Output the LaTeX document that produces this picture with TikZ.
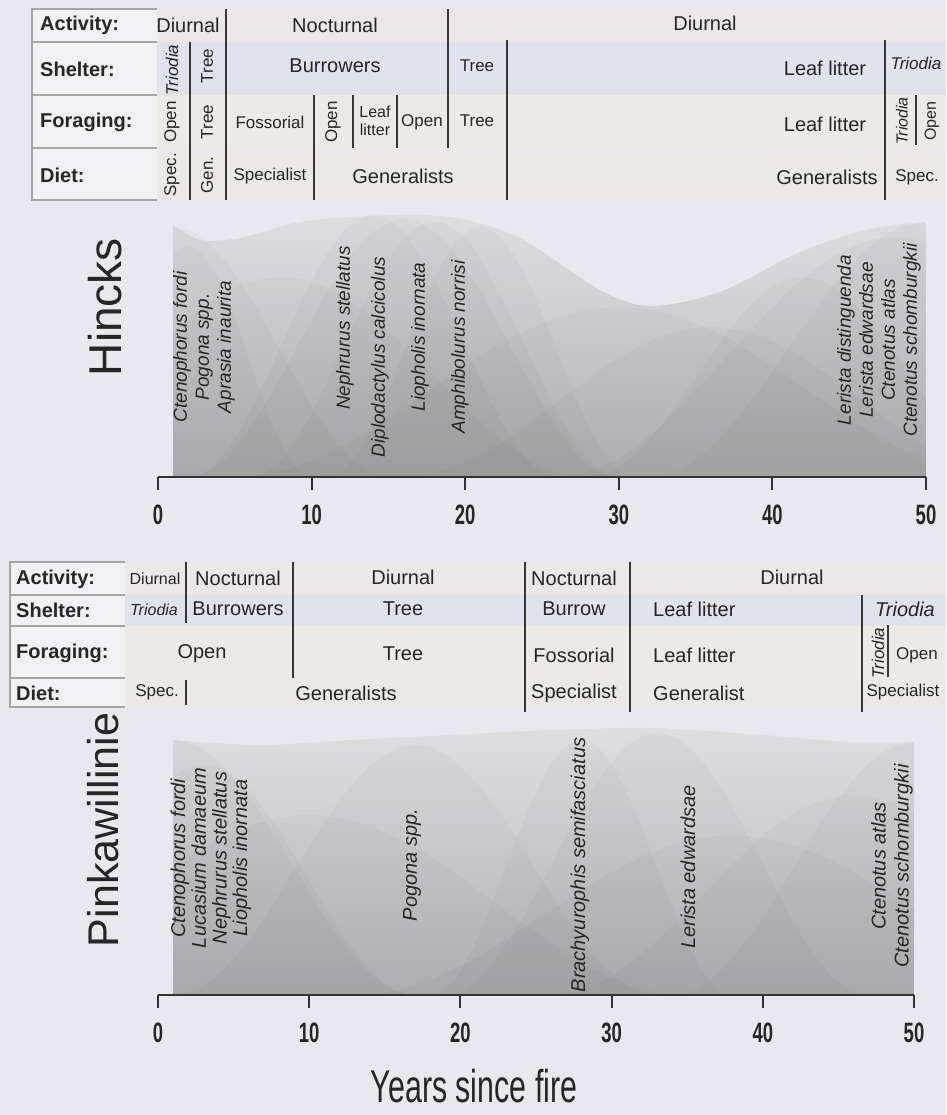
\documentclass[tikz,border=0pt]{standalone}
\usepackage{fontspec}
\setmainfont{Liberation Sans}
\usepackage{graphicx}
\usetikzlibrary{positioning}

\definecolor{bgcol}{RGB}{232,232,238}
\definecolor{actcol}{RGB}{236,231,233}
\definecolor{shecol}{RGB}{225,226,237}
\definecolor{forcol}{RGB}{236,234,226}
\definecolor{diecol}{RGB}{234,233,230}
\definecolor{boxcol}{RGB}{241,241,244}
\definecolor{linecol}{RGB}{55,55,55}
\definecolor{plottop}{RGB}{222,222,225}
\definecolor{plotbot}{RGB}{184,184,186}

\begin{document}
\begin{tikzpicture}[x=1pt, y=-1pt,
	every node/.style={inner sep=0pt, text=black!85},
	rowlab/.style={anchor=west, font=\fontsize{20}{22}\selectfont\bfseries},
	biglab/.style={font=\fontsize{20}{22}\selectfont},
	smalllab/.style={font=\fontsize{17}{20}\selectfont},
	tinylab/.style={font=\fontsize{16}{18}\selectfont, align=center},
	uplab/.style={rotate=90},
	splab/.style={rotate=90, align=center, font=\fontsize{19}{22}\selectfont\itshape},
	sitelab/.style={rotate=90, font=\fontsize{46}{50}\selectfont},
	ticklab/.style={font=\fontsize{28}{30}\selectfont\bfseries},
	sep/.style={draw=linecol, line width=2.2pt},
	boxline/.style={draw=black!35, line width=1.2pt},
	axisline/.style={draw=black!80, line width=2pt},
	hump/.style={fill=black, fill opacity=0.022},
	plotbase/.style={top color=plottop, bottom color=plotbot}]

	% Canvas
	\fill[bgcol] (0,0) rectangle (946,1115);
	\useasboundingbox (0,0) rectangle (946,1115);

	%%%%%%%%%%%%%%%% Hincks table
	% Bands
	\fill[actcol] (157,9) rectangle (946,42);
	\fill[shecol] (157,42) rectangle (946,95);
	\fill[forcol] (157,95) rectangle (946,148);
	\fill[diecol] (157,148) rectangle (946,200);
	% Label box
	\fill[boxcol] (32,9) rectangle (157,200);
	\draw[boxline] (157,9) -- (32,9) -- (32,200) -- (157,200);
	\draw[boxline] (32,42) -- (157,42);
	\draw[boxline] (32,95) -- (157,95);
	\draw[boxline] (32,148) -- (157,148);
	\node[rowlab] (hact) at (40,25) {Activity:};
	\node[rowlab] (hshe) at (40,69) {Shelter:};
	\node[rowlab] (hfor) at (40,122) {Foraging:};
	\node[rowlab] (hdie) at (40,175) {Diet:};
	% Activity
	\node[biglab] (hact1) at (188,25) {Diurnal};
	\node[biglab] (hact2) at (335,25) {Nocturnal};
	\node[biglab] (hact3) at (705,23) {Diurnal};
	% Shelter
	\node[smalllab, uplab] (hshe1) at (172,70) {\itshape Triodia};
	\node[smalllab, uplab] (hshe2) at (207,66) {Tree};
	\node[biglab] (hshe3) at (335,66) {Burrowers};
	\node[smalllab] (hshe4) at (477,66) {Tree};
	\node[biglab] (hshe5) at (825,68) {Leaf litter};
	\node[smalllab] (hshe6) at (916,63) {\itshape Triodia};
	% Foraging
	\node[smalllab, uplab] (hfor1) at (172,122) {Open};
	\node[smalllab, uplab] (hfor2) at (207,122) {Tree};
	\node[smalllab] (hfor3) at (270,122) {Fossorial};
	\node[smalllab, uplab] (hfor4) at (333,122) {Open};
	\node[tinylab] (hfor5) at (375,121) {Leaf\\litter};
	\node[smalllab] (hfor6) at (422,122) {Open};
	\node[smalllab] (hfor7) at (477,121) {Tree};
	\node[biglab] (hfor8) at (825,124) {Leaf litter};
	\node[tinylab, uplab] (hfor9) at (902,121) {\itshape Triodia};
	\node[tinylab, uplab] (hfor10) at (932,121) {Open};
	% Diet
	\node[smalllab, uplab] (hdie1) at (172,175) {Spec.};
	\node[smalllab, uplab] (hdie2) at (207,175) {Gen.};
	\node[smalllab] (hdie3) at (270,176) {Specialist};
	\node[biglab] (hdie4) at (403,176) {Generalists};
	\node[biglab] (hdie5) at (827,177) {Generalists};
	\node[smalllab] (hdie6) at (917,177) {Spec.};
	% Separators
	\draw[sep] (190,42) -- (190,200);
	\draw[sep] (226,9) -- (226,200);
	\draw[sep] (314,95) -- (314,200);
	\draw[sep] (353,95) -- (353,148);
	\draw[sep] (397,95) -- (397,148);
	\draw[sep] (448,9) -- (448,148);
	\draw[sep] (507,40) -- (507,200);
	\draw[sep] (885,40) -- (885,200);
	\draw[sep] (916,95) -- (916,145);

	%%%%%%%%%%%%%%%% Hincks plot
	\begin{scope}
		\clip (173,200) rectangle (926,477);
		\shade[plotbase] plot[smooth] coordinates {(173,225) (200,240) (240,238) (300,222) (370,216) (450,217) (520,238) (600,290) (650,306) (720,292) (800,252) (870,229) (926,222)} -- (926,477) -- (173,477) -- cycle;
		\foreach \m/\w/\h in {1/14/250, 2/8/230, 8/20/200, 14/12/262, 16/14/258, 18/12/255, 21/10/250, 30/25/170, 36/20/150, 42/14/200, 48/22/240, 50/18/255}{
			\pgfmathsetmacro\lo{\m-\w}
			\pgfmathsetmacro\hi{\m+\w}
			\fill[hump] plot[domain=\lo:\hi, samples=40] ({158+15.36*\x},{477-\h*(0.5+0.5*cos(180*(\x-\m)/\w))}) -- cycle;
		}
	\end{scope}
	% Species
	\node[splab] (hsp1) at (204,347) {Ctenophorus fordi\\Pogona spp.\\Aprasia inaurita};
	\node[splab] (hsp2) at (345,328) {Nephrurus stellatus};
	\node[splab] (hsp3) at (380,357) {Diplodactylus calcicolus};
	\node[splab] (hsp4) at (420,337) {Liopholis inornata};
	\node[splab] (hsp5) at (460,347) {Amphibolurus norrisi};
	\node[splab] (hsp6) at (879,340) {Lerista distinguenda\\Lerista edwardsae\\Ctenotus atlas\\Ctenotus schomburgkii};
	\node[sitelab] (hname) at (105,307) {Hincks};
	% Axis
	\coordinate (hx0) at (158,477);
	\coordinate (hx50) at (926,477);
	\draw[axisline] (hx0) -- (hx50);
	\foreach \t in {0,10,...,50}{
		\draw[axisline] ({158+15.36*\t},477) -- ++(0,13);
		\node[ticklab] (ht\t) at ({158+15.36*\t},515) {\scalebox{0.66}[1]{\t}};
	}

	%%%%%%%%%%%%%%%% Pinkawillinie table
	% Bands
	\fill[actcol] (125,562) rectangle (946,595);
	\fill[shecol] (125,595) rectangle (946,626);
	\fill[forcol] (125,626) rectangle (946,678);
	\fill[diecol] (125,678) rectangle (946,707);
	% Label box
	\fill[boxcol] (10,562) rectangle (125,707);
	\draw[boxline] (125,562) -- (10,562) -- (10,707) -- (125,707);
	\draw[boxline] (10,595) -- (125,595);
	\draw[boxline] (10,626) -- (125,626);
	\draw[boxline] (10,678) -- (125,678);
	\node[rowlab] (pact) at (16,579) {Activity:};
	\node[rowlab] (pshe) at (16,610) {Shelter:};
	\node[rowlab] (pfor) at (16,653) {Foraging:};
	\node[rowlab] (pdie) at (16,693) {Diet:};
	% Activity
	\node[tinylab] (pact1) at (155,579) {Diurnal};
	\node[biglab] (pact2) at (238,578) {Nocturnal};
	\node[biglab] (pact3) at (403,577) {Diurnal};
	\node[biglab] (pact4) at (574,578) {Nocturnal};
	\node[biglab] (pact5) at (792,577) {Diurnal};
	% Shelter
	\node[tinylab] (pshe1) at (154,610) {\itshape Triodia};
	\node[biglab] (pshe2) at (238,609) {Burrowers};
	\node[biglab] (pshe3) at (403,609) {Tree};
	\node[biglab] (pshe4) at (574,609) {Burrow};
	\node[biglab, anchor=west] (pshe5) at (653,609) {Leaf litter};
	\node[biglab] (pshe6) at (905,609) {\itshape Triodia};
	% Foraging
	\node[biglab] (pfor1) at (202,654) {Open};
	\node[biglab] (pfor2) at (403,654) {Tree};
	\node[biglab] (pfor3) at (574,655) {Fossorial};
	\node[biglab, anchor=west] (pfor4) at (653,655) {Leaf litter};
	\node[smalllab, uplab] (pfor5) at (878,653) {\itshape Triodia};
	\node[smalllab] (pfor6) at (917,655) {Open};
	% Diet
	\node[smalllab] (pdie1) at (157,692) {Spec.};
	\node[biglab] (pdie2) at (346,693) {Generalists};
	\node[biglab] (pdie3) at (574,693) {Specialist};
	\node[biglab, anchor=west] (pdie4) at (653,693) {Generalist};
	\node[smalllab] (pdie5) at (903,692) {Specialist};
	% Separators
	\draw[sep] (186,562) -- (186,623);
	\draw[sep] (186,680) -- (186,705);
	\draw[sep] (293,562) -- (293,678);
	\draw[sep] (525,562) -- (525,712);
	\draw[sep] (630,562) -- (630,712);
	\draw[sep] (862,595) -- (862,712);
	\draw[sep] (888,625) -- (888,677);

	%%%%%%%%%%%%%%%% Pinkawillinie plot
	\begin{scope}
		\clip (173,700) rectangle (914,995);
		\shade[plotbase] plot[smooth] coordinates {(173,740) (260,745) (350,740) (450,735) (550,730) (650,728) (750,734) (850,742) (914,742)} -- (914,995) -- (173,995) -- cycle;
		\foreach \m/\w/\h in {1/16/255, 3/14/230, 10/25/180, 17/16/250, 28/10/255, 33/14/262, 38/25/160, 46/20/200, 50/16/253}{
			\pgfmathsetmacro\lo{\m-\w}
			\pgfmathsetmacro\hi{\m+\w}
			\fill[hump] plot[domain=\lo:\hi, samples=40] ({158+15.12*\x},{995-\h*(0.5+0.5*cos(180*(\x-\m)/\w))}) -- cycle;
		}
	\end{scope}
	% Species
	\node[splab, font=\fontsize{20}{20.7}\selectfont\itshape] (psp1) at (211,858) {Ctenophorus fordi\\Lucasium damaeum\\Nephrurus stellatus\\Liopholis inornata};
	\node[splab, font=\fontsize{20}{22}\selectfont\itshape] (psp2) at (412,865) {Pogona spp.};
	\node[splab, font=\fontsize{20}{22}\selectfont\itshape] (psp3) at (580,865) {Brachyurophis semifasciatus};
	\node[splab, font=\fontsize{20}{22}\selectfont\itshape] (psp4) at (688,867) {Lerista edwardsae};
	\node[splab, font=\fontsize{20}{23}\selectfont\itshape] (psp5) at (892,866) {Ctenotus atlas\\Ctenotus schomburgkii};
	\node[sitelab, font=\fontsize{43}{47}\selectfont] (pname) at (103,830) {Pinkawillinie};
	% Axis
	\coordinate (px0) at (158,995);
	\coordinate (px50) at (914,995);
	\draw[axisline] (px0) -- (px50);
	\foreach \t in {0,10,...,50}{
		\draw[axisline] ({158+15.12*\t},995) -- ++(0,13);
		\node[ticklab] (pt\t) at ({158+15.12*\t},1033) {\scalebox{0.66}[1]{\t}};
	}
	\node[font=\fontsize{46}{50}\selectfont] (xlab) at (474,1086) {\scalebox{0.66}[1]{Years since fire}};
\end{tikzpicture}
\end{document}
